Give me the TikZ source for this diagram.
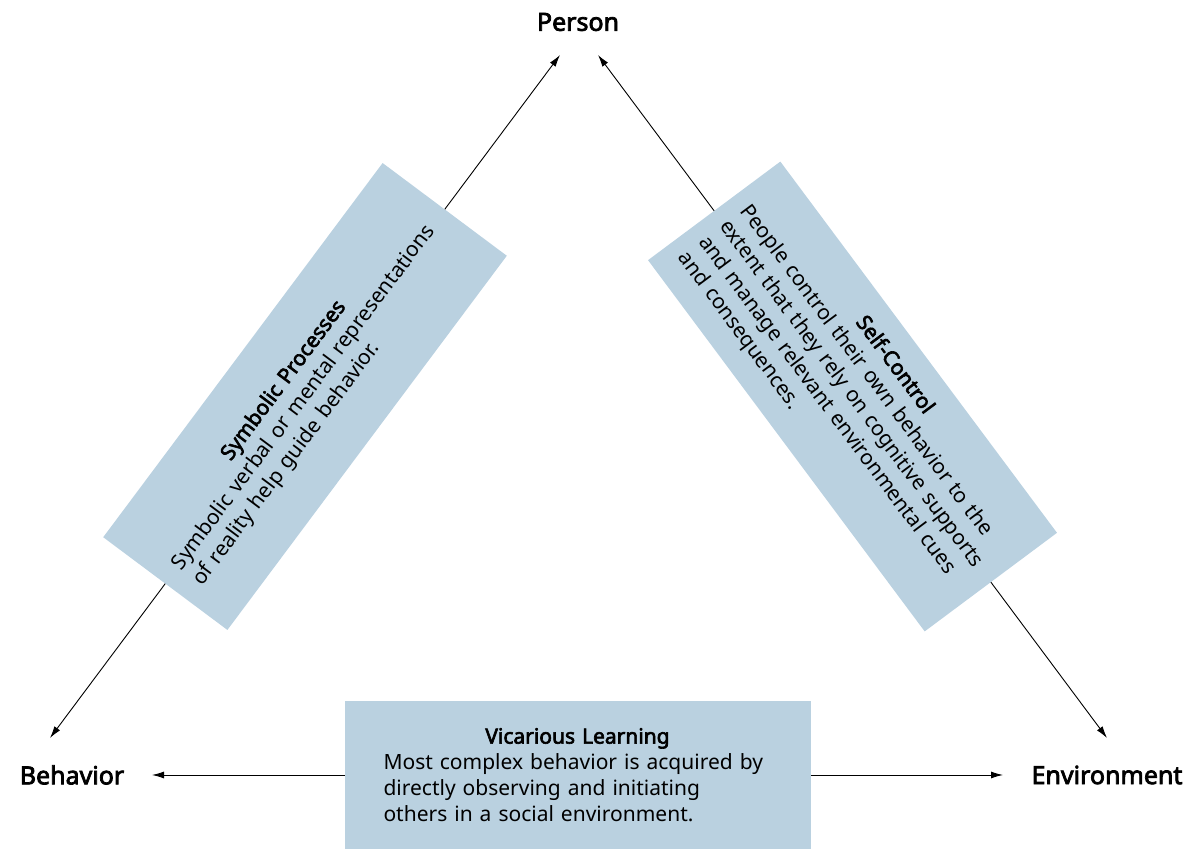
\documentclass[tikz,border=0pt]{standalone}
\usepackage{fontspec}
\setmainfont{Noto Sans}[AutoFakeBold=3]
\usetikzlibrary{arrows.meta}
\newcommand{\unitsize}{1pt}
\newcommand{\boxhead}[1]{{\centering\bfseries #1\par}}
\definecolor{boxblue}{RGB}{186,209,224}
\hyphenpenalty=10000
\exhyphenpenalty=10000

\begin{document}
\begin{tikzpicture}[x=\unitsize,y=\unitsize,
	vertex/.style={font=\bfseries\fontsize{25}{29}\selectfont},
	infobox/.style={fill=boxblue, align=left, inner sep=0pt, font=\fontsize{21}{26}\selectfont},
	link/.style={{Latex[length=12pt,width=7pt]}-{Latex[length=12pt,width=7pt]}, line width=0.9pt}]
	\useasboundingbox (0,0) rectangle (1202,850);

	\node[vertex] (person) at (578,828) {Person};
	\node[vertex] (behavior) at (72,75) {Behavior};
	\node[vertex] (environment) at (1107,75) {Environment};

	\coordinate (BP) at (50,112);
	\coordinate (PB) at (560,795);
	\coordinate (PE) at (598,795);
	\coordinate (EP) at (1107,112);
	\coordinate (BE) at (152,75);
	\coordinate (EB) at (1003,75);

	\draw[link] (BP) -- node[infobox, sloped, minimum width=467pt, minimum height=155pt, text width=428pt] (symbolic)
		{\boxhead{Symbolic Processes}
		Symbolic verbal or mental representations\\ of reality help guide behavior.} (PB);
	\draw[link] (PE) -- node[infobox, sloped, minimum width=463pt, minimum height=165pt, text width=432pt] (selfcontrol)
		{\boxhead{Self-Control}
		People control their own behavior to the\\ extent that they rely on cognitive supports\\
		and manage relevant environmental cues\\ and consequences.} (EP);
	\draw[link] (BE) -- node[infobox, minimum width=466pt, minimum height=148pt, text width=388pt] (vicarious)
		{\boxhead{Vicarious Learning}
		Most complex behavior is acquired by\\ directly observing and initiating\\
		others in a social environment.} (EB);

\end{tikzpicture}
\end{document}
